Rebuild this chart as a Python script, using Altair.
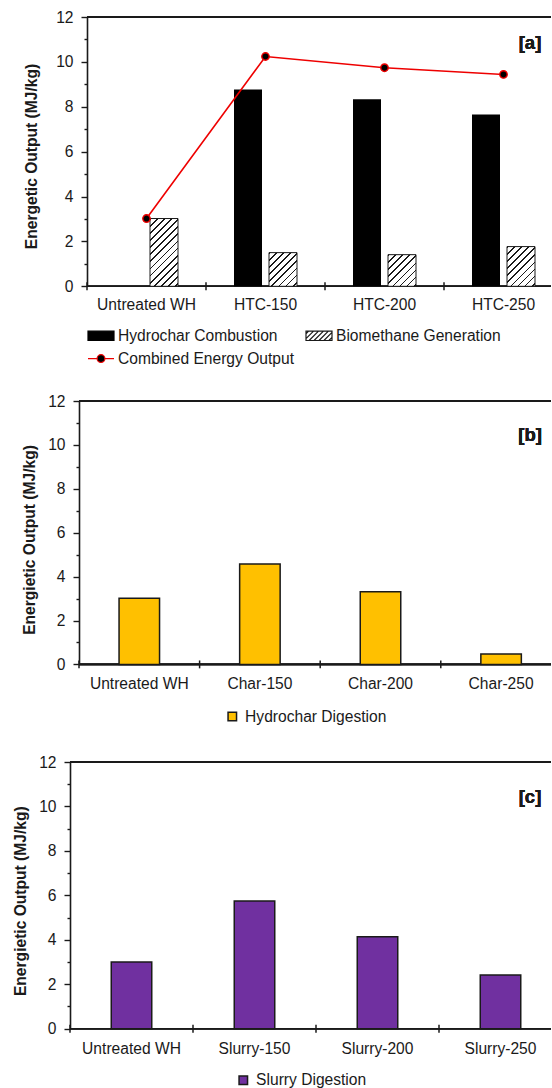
import altair as alt
import pandas as pd

# ---------------- data ----------------
cats_a = ["Untreated WH", "HTC-150", "HTC-200", "HTC-250"]
hydrochar_comb = [None, 8.77, 8.33, 7.66]
biomethane_gen = [3.02, 1.50, 1.41, 1.77]
combined_out = [3.02, 10.24, 9.74, 9.44]
series_a = ["Hydrochar Combustion", "Biomethane Generation", "Combined Energy Output"]

cats_b = ["Untreated WH", "Char-150", "Char-200", "Char-250"]
hydrochar_dig = [3.01, 4.57, 3.31, 0.47]
series_b = ["Hydrochar Digestion"]

cats_c = ["Untreated WH", "Slurry-150", "Slurry-200", "Slurry-250"]
slurry_dig = [3.00, 5.75, 4.14, 2.42]
series_c = ["Slurry Digestion"]

y_ticks = list(range(0, 13))
panel_tags = ["[a]", "[b]", "[c]"]
tag_y = [10.85, 10.45, 10.42]
y_title_a = "Energetic Output (MJ/kg)"
y_title_bc = "Energietic Output (MJ/kg)"

# ---------------- style ----------------
FONT = "Liberation Sans"
INK = "#1a1a1a"
FS = 15.6
RED = "#EE0000"
GOLD = "#FFC000"
PURPLE = "#7030A0"
ORIGIN = 70      # common left extent of every panel
W = 481          # plot width (ends at the right edge of the page)


class Panel:
    def __init__(self, cats, shift, step, H, title, tx, ty, label_dy):
        self.cats, self.s, self.step, self.H = cats, shift, step, H
        self.title, self.tx, self.ty, self.label_dy = title, tx, ty, label_dy

    def xs(self):
        return alt.Scale(domain=self.cats, range=[self.s, self.s + 4 * self.step],
                         paddingInner=0, paddingOuter=0)

    def x(self, **kw):
        return alt.X("cat:N", scale=self.xs(), axis=None, **kw)

    def xd(self, d):
        return alt.X(datum=d, type="nominal", scale=self.xs(), axis=None)

    def yaxis(self):
        return alt.Axis(
            values=y_ticks, title=self.title, titleFont=FONT, titleFontSize=FS,
            titleFontWeight="bold", titleColor=INK, titleX=self.tx, titleY=self.ty,
            titleAngle=270, titleAlign="center", titleBaseline="middle",
            labelFont=FONT, labelFontSize=FS, labelColor=INK,
            labelExpr="datum.value % 2 === 0 ? datum.label : ''",
            labelPadding=8, tickColor=INK, tickWidth=1.4,
            tickSize={"condition": {"test": "datum.value % 2 === 1", "value": 3},
                      "value": 6},
            domainColor=INK, domainWidth=1.6, grid=False, offset=-self.s)

    def ys(self):
        return alt.Scale(domain=[0, 12], nice=False, zero=True)

    def y(self, field):
        return alt.Y(field, type="quantitative", scale=self.ys(), axis=self.yaxis())

    def yd(self, d):
        return alt.Y(datum=d, type="quantitative", scale=self.ys(), axis=self.yaxis())

    def base_layers(self, df):
        top = alt.Chart(df).mark_rule(color=INK, strokeWidth=1.6).encode(
            y=self.yd(12), x=alt.value(self.s), x2=alt.value(W))
        bot = alt.Chart(df).mark_rule(color=INK, strokeWidth=1.6).encode(
            y=self.yd(0), x=alt.value(self.s), x2=alt.value(W))
        ticks = alt.Chart(df).mark_rule(color=INK, strokeWidth=1.5).encode(
            x=self.x(bandPosition=0), y=self.yd(-0.18), y2=alt.Y2(datum=0.18))
        labels = alt.Chart(df).mark_text(
            font=FONT, fontSize=FS, color=INK, baseline="top", align="center",
            dy=self.label_dy).encode(x=self.x(), y=self.yd(0), text="cat:N")
        return [top, bot, ticks, labels]

    def tag(self, df, idx, dx):
        return alt.Chart(df).mark_text(
            font=FONT, fontSize=18.5, fontWeight="bold", color=INK,
            align="center", baseline="middle", dx=dx).encode(
            x=self.xd(self.cats[3]), y=self.yd(tag_y[idx]),
            text=alt.value(panel_tags[idx]))


def hatch_gradient(w, h, period=5.0, dark=1.3):
    n = (w + h) / (2 ** 0.5 * period)
    dt = 1.0 / n
    stops = []
    t = 0.0
    while t < 1.0:
        a = t
        b = min(t + dt * dark / period, 1.0)
        c = min(t + dt, 1.0)
        stops += [
            {"offset": round(a, 4), "color": INK},
            {"offset": round(b, 4), "color": INK},
            {"offset": round(b, 4), "color": "#ffffff"},
            {"offset": round(c, 4), "color": "#ffffff"},
        ]
        t += dt
    k = (w + h) / (w * w + h * h)
    return {"gradient": "linear", "x1": 0, "y1": 0, "x2": round(k * w, 4),
            "y2": round(k * h, 4), "stops": stops}


def hatch_path():
    hh = 0.36
    parts = [f"M-1,-{hh}H1V{hh}H-1Z"]
    a = -1 - 2 * hh + 0.2
    while a < 1:
        x0, y0 = a, hh
        x1, y1 = a + 2 * hh, -hh
        if x0 < -1:
            y0 = hh - (-1 - x0)
            x0 = -1
        if x1 > 1:
            y1 = -hh + (x1 - 1)
            x1 = 1
        if x1 > x0:
            parts.append(f"M{x0:.3f},{y0:.3f}L{x1:.3f},{y1:.3f}")
        a += 0.38
    return "".join(parts)


RECT_PATH = "M-1,-0.36H1V0.36H-1Z"
LINE_DOT_PATH = ("M-1,0H-0.3M0.3,0H1M0.3,0A0.3,0.3 0 1 1 -0.3,0"
                 "A0.3,0.3 0 1 1 0.3,0Z")


def spacer(top, bottom):
    return alt.Chart(pd.DataFrame({"s": [0]})).mark_rule(
        strokeOpacity=0, strokeWidth=1).encode(
        x=alt.value(-ORIGIN), y=alt.value(-top), y2=alt.value(bottom))


# ---------------- panel a ----------------
pa = Panel(cats_a, 17, 119.0, 269.3, y_title_a, -55.3, 139.0, 12.0)
df_a = pd.DataFrame({"cat": cats_a, "hyd": hydrochar_comb, "bio": biomethane_gen,
                     "comb": combined_out})

layers_a = pa.base_layers(df_a)
layers_a.append(
    alt.Chart(df_a).mark_bar(size=28, xOffset=-17.5, color="#000000").encode(
        x=pa.x(), y=pa.y("hyd")))
for i, c in enumerate(cats_a):
    hpx = biomethane_gen[i] * pa.H / 12.0
    layers_a.append(
        alt.Chart(df_a).transform_filter(alt.datum.cat == c).mark_bar(
            size=28, xOffset=17.5, fill=hatch_gradient(28, hpx), stroke=INK,
            strokeWidth=1).encode(x=pa.x(), y=pa.y("bio")))
layers_a.append(
    alt.Chart(df_a).mark_line(color=RED, strokeWidth=1.6).encode(
        x=pa.x(), y=pa.y("comb")))
layers_a.append(
    alt.Chart(df_a).mark_circle(size=55, fill="#000000", stroke=RED, strokeWidth=1.4,
                                opacity=1).encode(x=pa.x(), y=pa.y("comb")))
layers_a.append(pa.tag(df_a, 0, 26.5))

leg_a = alt.Legend(
    orient="none", legendX=pa.s, legendY=304.6, columns=2, direction="horizontal",
    columnPadding=9, rowPadding=0, symbolSize=676, symbolStrokeWidth=1.2,
    symbolOpacity=1, labelFont=FONT, labelFontSize=FS, labelColor=INK, labelOffset=3,
    labelLimit=400, title=None, padding=0)
layers_a.append(
    alt.Chart(pd.DataFrame({"series": series_a})).transform_filter("false").mark_point(
        filled=True, opacity=1).encode(
        shape=alt.Shape("series:N", scale=alt.Scale(
            domain=series_a, range=[RECT_PATH, hatch_path(), LINE_DOT_PATH]), legend=leg_a),
        fill=alt.Fill("series:N", scale=alt.Scale(
            domain=series_a, range=["#000000", "#ffffff", "#000000"]), legend=leg_a),
        stroke=alt.Stroke("series:N", scale=alt.Scale(
            domain=series_a, range=["#000000", INK, RED]), legend=leg_a)))
layers_a.append(spacer(16.7, 363.3))
panel_a = alt.layer(*layers_a).properties(width=W, height=pa.H)


# ---------------- panels b / c ----------------
def single_panel(p, vals, series, color, idx, dx, lx, ly, top, bottom):
    df = pd.DataFrame({"cat": p.cats, "val": vals})
    layers = p.base_layers(df)
    layers.append(
        alt.Chart(df).mark_bar(size=40.5, fill=color, stroke=INK, strokeWidth=1.5).encode(
            x=p.x(), y=p.y("val")))
    layers.append(p.tag(df, idx, dx))
    leg = alt.Legend(
        orient="none", legendX=p.s + lx, legendY=ly, symbolType="square",
        symbolSize=72, symbolStrokeColor=INK, symbolStrokeWidth=1.5, symbolOpacity=1,
        labelFont=FONT, labelFontSize=FS, labelColor=INK, labelOffset=5,
        labelLimit=400, title=None, padding=0)
    layers.append(
        alt.Chart(pd.DataFrame({"series": series})).transform_filter("false").mark_square(
            filled=True, opacity=1, stroke=INK, strokeWidth=1.5).encode(
            fill=alt.Fill("series:N", scale=alt.Scale(domain=series, range=[color]),
                          legend=leg)))
    layers.append(spacer(top, bottom))
    return alt.layer(*layers).properties(width=W, height=p.H)


pb = Panel(cats_b, 9, 120.6, 263.4, y_title_bc, -49.5, 138.5, 12.8)
pc = Panel(cats_c, 0, 123.0, 266.7, y_title_bc, -49.3, 138.7, 12.8)
panel_b = single_panel(pb, hydrochar_dig, series_b, GOLD, 1, 29, 145.5, 307.7,
                       19.3, 340.7)
panel_c = single_panel(pc, slurry_dig, series_c, PURPLE, 2, 29.5, 165.5, 310.5,
                       20.0, 327.0)

chart = alt.concat(panel_a, panel_b, panel_c, columns=1, spacing=0, align="none",
                   bounds="full").resolve_scale(
    fill="independent", shape="independent", stroke="independent",
    x="independent", y="independent").resolve_legend(
    fill="independent", shape="independent", stroke="independent").properties(
    padding=0, background="white").configure_view(stroke=None)

chart.save("out.html", embed_options={"renderer": "svg", "actions": False})
